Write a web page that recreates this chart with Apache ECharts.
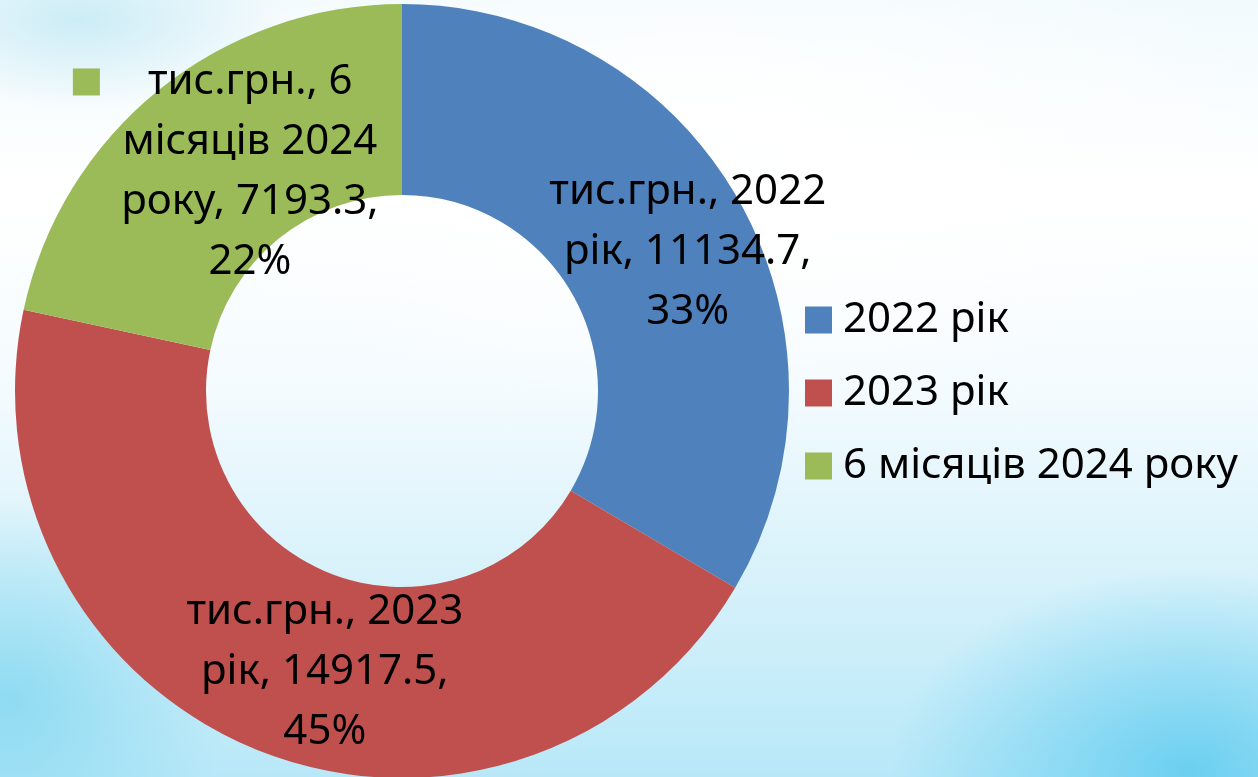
<!DOCTYPE html>
<html>
<head>
<meta charset="utf-8">
<script src="https://cdn.jsdelivr.net/npm/echarts@6/dist/echarts.min.js"></script>
<style>
html,body{margin:0;padding:0;width:1258px;height:777px;overflow:hidden;}
#bg{position:absolute;left:0;top:0;width:1258px;height:777px;
background:
 radial-gradient(ellipse 300px 200px at 1190px 770px, rgba(100,205,240,0.9), rgba(100,205,240,0) 100%),
 radial-gradient(ellipse 220px 200px at 10px 700px, rgba(130,215,240,0.8), rgba(130,215,240,0) 100%),
 radial-gradient(ellipse 200px 90px at 80px 20px, rgba(200,235,245,0.9), rgba(200,235,245,0) 100%),
 radial-gradient(ellipse 600px 260px at 700px 150px, rgba(255,255,255,1), rgba(255,255,255,0) 100%),
 linear-gradient(to bottom, #f2fafd 0%, #ffffff 25%, #f4fbfe 50%, #dcf3fb 70%, #b8e8f8 100%);}
#chart{position:absolute;left:0;top:0;width:1258px;height:777px;}
</style>
</head>
<body>
<div id="bg"></div>
<div id="chart"></div>
<script>
const seriesName = 'тис.грн.';
const categories = ['2022 рік', '2023 рік', '6 місяців 2024 року'];
const values = [11134.7, 14917.5, 7193.3];
const colors = ['#4F81BD', '#C0504D', '#9BBB59'];

const FONT = 'Noto Sans';

function wrapWords(text, maxChars) {
  const words = text.split(' ');
  const lines = [];
  let cur = '';
  words.forEach(w => {
    if (cur === '') cur = w;
    else if ((cur + ' ' + w).length <= maxChars) cur += ' ' + w;
    else { lines.push(cur); cur = w; }
  });
  if (cur) lines.push(cur);
  return lines;
}
function labelLines(p) {
  const txt = p.seriesName + ', ' + p.name + ', ' + p.value + ', ' + Math.round(p.percent) + '%';
  return wrapWords(txt, 14);
}

const chart = echarts.init(document.getElementById('chart'), null, {renderer: 'canvas'});

const data = categories.map((c, i) => {
  const item = { name: c, value: values[i], itemStyle: { color: colors[i] } };
  if (i === 2) {
    item.label = {
      offset: [33, 10],
      formatter: p => {
        const ls = labelLines(p);
        return '{sq|}{gap|}{first|' + ls[0] + '}\n' + ls.slice(1).map(l => '{rest|' + l + '}').join('\n');
      },
      rich: {
        sq: { width: 27, height: 27, backgroundColor: colors[2], align: 'left', verticalAlign: 'middle' },
        gap: { width: 48, align: 'left' },
        first: { fontSize: 42, fontFamily: FONT, color: '#000', lineHeight: 60, align: 'left' },
        rest: { fontSize: 42, fontFamily: FONT, color: '#000', lineHeight: 60, width: 354, align: 'center' }
      }
    };
  }
  return item;
});

chart.setOption({
  backgroundColor: 'transparent',
  animation: false,
  legend: {
    orient: 'vertical',
    left: 805,
    top: 299,
    padding: 0,
    icon: 'rect',
    itemWidth: 27,
    itemHeight: 27,
    itemGap: 31,
    data: categories,
    textStyle: { fontSize: 42, fontFamily: FONT, color: '#000', padding: [0, 0, 0, 6] }
  },
  series: [{
    type: 'pie',
    name: seriesName,
    center: [402, 391],
    radius: [196, 387],
    startAngle: 90,
    clockwise: true,
    avoidLabelOverlap: false,
    label: {
      show: true,
      position: 'inside',
      offset: [30, 7],
      fontSize: 42,
      fontFamily: FONT,
      color: '#000',
      lineHeight: 60,
      align: 'center',
      formatter: p => labelLines(p).join('\n')
    },
    labelLine: { show: false },
    emphasis: { disabled: true },
    itemStyle: { borderWidth: 0 },
    data: data
  }]
});
</script>
</body>
</html>
